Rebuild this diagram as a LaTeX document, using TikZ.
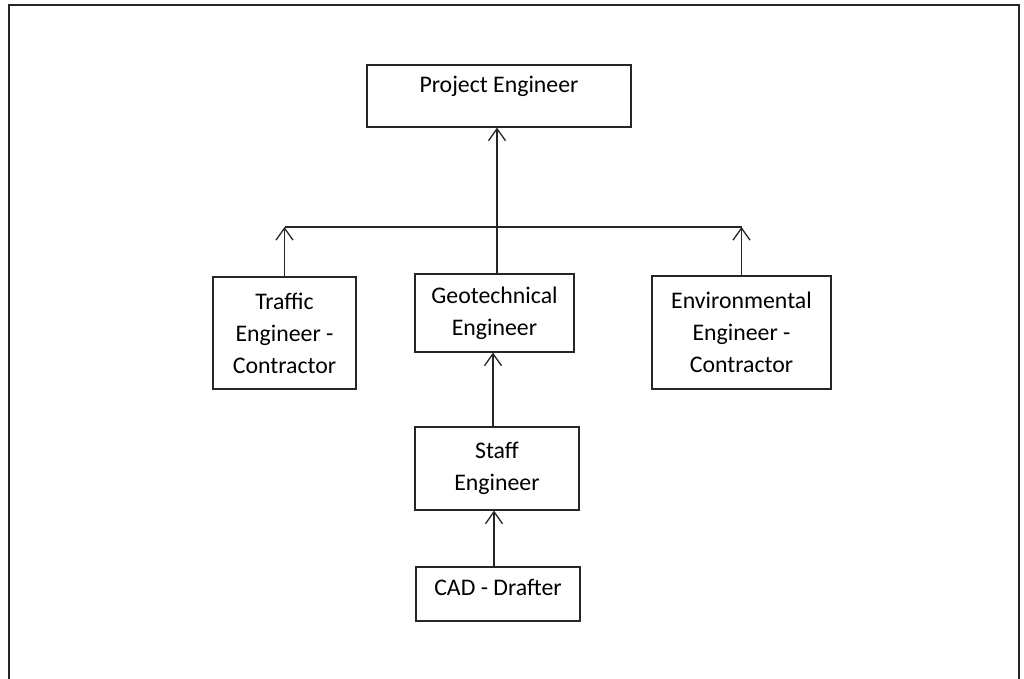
\documentclass[tikz,border=0pt]{standalone}
\usepackage{fontspec}
\setmainfont{Carlito}
\usetikzlibrary{arrows.meta}
\definecolor{lineclr}{HTML}{262626}
\begin{document}
\begin{tikzpicture}[x=1pt,y=-1pt]
	\tikzstyle{box}=[rectangle, draw=lineclr, line width=1.2pt, align=center, inner sep=0pt,
		font=\fontsize{23.8}{32}\selectfont]
	\tikzstyle{up}=[draw=lineclr, line width=1.3pt, -{Straight Barb[length=12pt,width=17pt,line width=1.3pt]}]
	\useasboundingbox (0,0) rectangle (1024,679);
	% Frame
	\draw [lineclr, line width=2pt] (9,679) -- (9,5.5) -- (1019,5.5) -- (1019,679);
	% Top
	\node at (499,96) [box, minimum width=264pt, text height=28pt, text depth=34pt] (pe) {Project Engineer};
	% Middle row
	\node at (284.5,333) [box, minimum width=143pt, minimum height=112pt] (traffic) {Traffic\\Engineer -\\Contractor};
	\node at (494.5,313) [box, minimum width=159pt, minimum height=78pt] (geo) {Geotechnical\\Engineer};
	\node at (741.5,332.5) [box, minimum width=179pt, minimum height=113pt] (env) {Environmental\\Engineer -\\Contractor};
	% Bottom
	\node at (497,468.5) [box, minimum width=164pt, minimum height=83pt] (staff) {Staff\\Engineer};
	\node at (498,594) [box, minimum width=164pt, text height=28pt, text depth=26pt] (cad) {CAD - Drafter};
	%---------------------%
	\coordinate (geotop) at ([xshift=2.5pt]geo.north);
	\coordinate (stafftop) at ([xshift=-4pt]staff.north);
	\coordinate (cadtop) at ([xshift=-4pt]cad.north);
	\coordinate (barleft) at (traffic.north |- 0,227);
	\coordinate (barright) at (env.north |- 0,227);
	% Bar
	\draw [lineclr, line width=1.3pt] (barleft) -- (barright);
	% Middle row -> Top
	\draw [up] (geotop) -- (geotop |- pe.south);
	\draw [up] (traffic.north) -- (barleft);
	\draw [up] (env.north) -- (barright);
	% Bottom -> Middle row
	\draw [up] (stafftop) -- (stafftop |- geo.south);
	\draw [up] (cadtop) -- (cadtop |- staff.south);
\end{tikzpicture}
\end{document}
